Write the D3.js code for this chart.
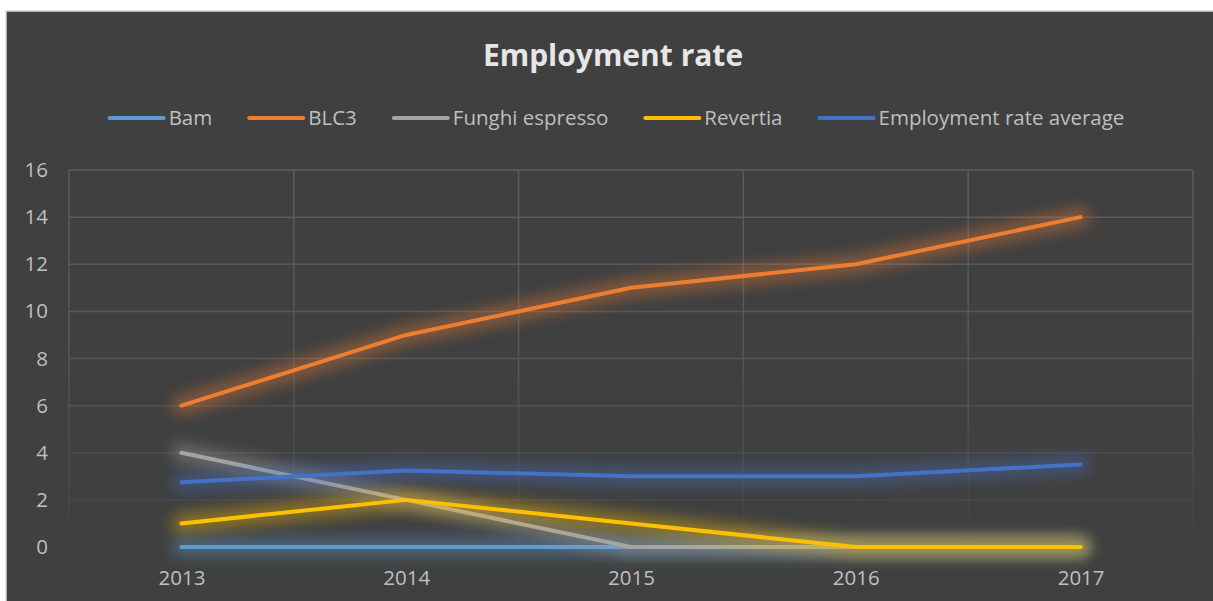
<!DOCTYPE html>
<html>
<head>
<meta charset="utf-8">
<script src="https://cdn.jsdelivr.net/npm/d3@7"></script>
<style>
  html, body { margin: 0; padding: 0; background: #ffffff; }
  svg { display: block; }
</style>
</head>
<body>
<svg id="chart" width="1213" height="601"></svg>
<script>
const categories = ["2013", "2014", "2015", "2016", "2017"];
const seriesNames = ["Bam", "BLC3", "Funghi espresso", "Revertia", "Employment rate average"];
const bam = [0, 0, 0, 0, 0];
const blc3 = [6, 9, 11, 12, 14];
const funghi = [4, 2, 0, 0, 0];
const revertia = [1, 2, 1, 0, 0];
const average = [2.75, 3.25, 3, 3, 3.5];
const yTicks = [0, 2, 4, 6, 8, 10, 12, 14, 16];
const colors = ["#5B9BD5", "#ED7D31", "#A5A5A5", "#FFC000", "#4472C4"];
const titleText = "Employment rate";

const seriesValues = [bam, blc3, funghi, revertia, average];
const series = seriesNames.map((n, i) => ({ name: n, values: seriesValues[i], color: colors[i] }));

const W = 1213, H = 601;
const svg = d3.select("#chart");
const font = "'Open Sans', 'Noto Sans', sans-serif";
const labelSize = "20.5px";

// chart background and border
svg.append("rect").attr("x", 6).attr("y", 11).attr("width", W + 20).attr("height", H + 20)
  .attr("fill", "#404040").attr("stroke", "#D9D9D9").attr("stroke-width", 1.5);

const plot = { left: 69, right: 1193, top: 170, bottom: 547 };

const x = d3.scalePoint().domain(categories).range([plot.left, plot.right]).padding(0.5);
const xBand = d3.scaleBand().domain(categories).range([plot.left, plot.right]).paddingInner(0).paddingOuter(0);
const y = d3.scaleLinear().domain([0, 16]).range([plot.bottom, plot.top]);

const defs = svg.append("defs");
const grad = defs.append("linearGradient").attr("id", "gridGrad")
  .attr("gradientUnits", "userSpaceOnUse")
  .attr("x1", 0).attr("x2", 0).attr("y1", plot.top).attr("y2", plot.bottom);
grad.append("stop").attr("offset", "0").attr("stop-color", "#5c5c5c").attr("stop-opacity", 1);
grad.append("stop").attr("offset", "0.45").attr("stop-color", "#5c5c5c").attr("stop-opacity", 0.85);
grad.append("stop").attr("offset", "1").attr("stop-color", "#5c5c5c").attr("stop-opacity", 0.05);

const glow = defs.append("filter").attr("id", "glow")
  .attr("filterUnits", "userSpaceOnUse")
  .attr("x", 0).attr("y", 0).attr("width", W).attr("height", H);
glow.append("feGaussianBlur").attr("stdDeviation", 7);

// gridlines
const grid = svg.append("g");
grid.selectAll("line.h").data(yTicks).join("line")
  .attr("x1", plot.left).attr("x2", plot.right)
  .attr("y1", d => y(d)).attr("y2", d => y(d))
  .attr("stroke", "url(#gridGrad)").attr("stroke-width", 1.5);
const vx = categories.map(c => xBand(c)).concat([plot.right]);
grid.selectAll("line.v").data(vx).join("line")
  .attr("x1", d => d).attr("x2", d => d)
  .attr("y1", plot.top).attr("y2", plot.bottom)
  .attr("stroke", "url(#gridGrad)").attr("stroke-width", 1.5);

// y axis labels
const yAxis = d3.axisLeft(y).tickValues(yTicks).tickSize(0).tickPadding(0);
const yg = svg.append("g").attr("transform", `translate(48,0)`).call(yAxis);
yg.select(".domain").remove();
yg.selectAll("text").attr("fill", "#BFBFBF").style("font-family", font).style("font-size", labelSize);

// x axis labels
const xAxis = d3.axisBottom(x).tickSize(0).tickPadding(0);
const xg = svg.append("g").attr("transform", `translate(0,570)`).call(xAxis);
xg.select(".domain").remove();
xg.selectAll("text").attr("fill", "#BFBFBF").style("font-family", font).style("font-size", labelSize);

// lines
const line = d3.line().x((d, i) => x(categories[i])).y(d => y(d));
series.forEach(s => {
  svg.append("path").attr("d", line(s.values))
    .attr("fill", "none").attr("stroke", s.color).attr("stroke-width", 20)
    .attr("stroke-linecap", "round").attr("stroke-linejoin", "round")
    .attr("opacity", 0.38).attr("filter", "url(#glow)");
  svg.append("path").attr("d", line(s.values))
    .attr("fill", "none").attr("stroke", s.color).attr("stroke-width", 4)
    .attr("stroke-linecap", "round").attr("stroke-linejoin", "round");
});

// title
svg.append("text").attr("x", 613).attr("y", 66).attr("text-anchor", "middle")
  .attr("fill", "#E6E6E6").style("font-family", font).style("font-weight", "bold")
  .style("font-size", "30px").text(titleText);

// legend (laid out from measured text widths, centred)
const legend = svg.append("g").attr("transform", "translate(0,118)");
const items = series.map(s => {
  const g = legend.append("g");
  const t = g.append("text").attr("y", 7)
    .attr("fill", "#BFBFBF").style("font-family", font).style("font-size", labelSize).text(s.name);
  return { s, g, t, w: t.node().getComputedTextLength() };
});
const lineW = 54, gapLT = 5, gapItem = 37;
const total = d3.sum(items, d => lineW + gapLT + d.w) + gapItem * (items.length - 1);
let lx = 617 - total / 2;
items.forEach(d => {
  d.g.insert("line", "text").attr("x1", lx).attr("x2", lx + lineW).attr("y1", 0).attr("y2", 0)
    .attr("stroke", d.s.color).attr("stroke-width", 4).attr("stroke-linecap", "round");
  d.t.attr("x", lx + lineW + gapLT);
  lx += lineW + gapLT + d.w + gapItem;
});
</script>
</body>
</html>
